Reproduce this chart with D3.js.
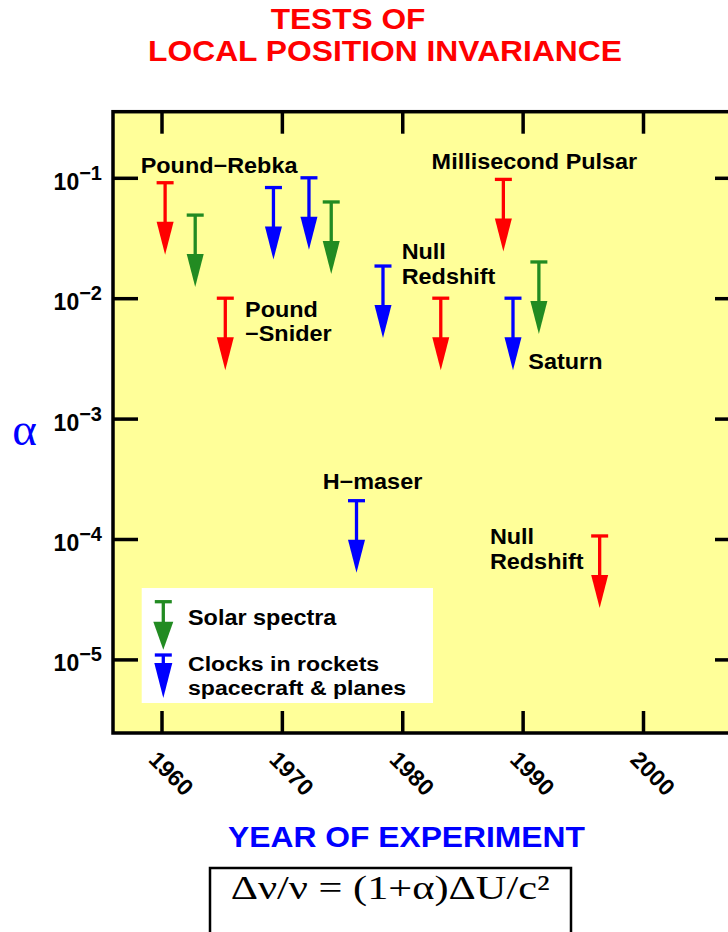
<!DOCTYPE html>
<html><head><meta charset="utf-8">
<script src="https://cdn.jsdelivr.net/npm/d3@7"></script>
<style>body{margin:0;background:#fff;} svg{display:block;}</style>
</head><body>
<svg id="chart" width="728" height="932"></svg>
<script>
// ---------- data ----------
const yearTicks = [1960, 1970, 1980, 1990, 2000];
const alphaTicks = [1e-1, 1e-2, 1e-3, 1e-4, 1e-5];
const alphaExponents = ["\u22121", "\u22122", "\u22123", "\u22124", "\u22125"];

// upper limits on alpha, by experiment type
const redYears  = [1960.3, 1965.3, 1983.2, 1988.4, 1996.4];
const redAlpha  = [0.091, 0.010, 0.010, 0.097, 1.06e-4];
const greenYears = [1962.8, 1974.1, 1991.35];
const greenAlpha = [0.049, 0.063, 0.020];
const blueYears = [1969.3, 1972.25, 1976.2, 1978.4, 1989.2];
const blueAlpha = [0.083, 0.100, 2.08e-4, 0.0185, 0.010];

const annotationTexts = [["Pound\u2212Rebka"], ["Pound", "\u2212Snider"], ["Null", "Redshift"],
  ["Millisecond Pulsar"], ["Saturn"], ["H\u2212maser"], ["Null", "Redshift"]];
const annotationYears = [1958.27, 1966.94, 1979.95, 1982.44, 1990.47, 1973.39, 1987.28];
const annotationAlpha = [0.109, 0.00702, 0.021, 0.118, 0.00257, 2.59e-4, 9.03e-5];

const legendLabels = [["Solar spectra"], ["Clocks in rockets", "spacecraft & planes"]];
const titleLines = ["TESTS OF", "LOCAL POSITION INVARIANCE"];
const xTitle = "YEAR OF EXPERIMENT";
const yTitle = "\u03b1";
const formula = "\u0394\u03bd/\u03bd = (1+\u03b1)\u0394U/c\u00b2";

// ---------- styles ----------
const RED = "#ff0000", GREEN = "#228b22", BLUE = "#0000ff", YELLOW = "#ffff99";
const SANS = "'Liberation Sans', Arial, Helvetica, sans-serif";
const SERIF = "'Liberation Serif', 'Times New Roman', serif";

const svg = d3.select("#chart");

const frame = {left: 113, top: 111.7, right: 740, bottom: 733};
const x = d3.scaleLinear().domain([1960, 2000]).range([161.5, 643]);
const y = d3.scaleLog().domain([1e-5, 1e-1]).range([659.4, 177.8]);

function stretchText(g, px, py, str, size, color, sx, anchor, family, weight) {
  return g.append("text")
    .attr("transform", `translate(${px},${py}) scale(${sx},1)`)
    .attr("font-family", family || SANS)
    .attr("font-weight", weight || "bold")
    .attr("font-size", size)
    .attr("fill", color)
    .attr("text-anchor", anchor || "start")
    .text(str);
}

// title
stretchText(svg, 348, 29, titleLines[0], 30, RED, 1.055, "middle");
stretchText(svg, 385, 61, titleLines[1], 30, RED, 1.06, "middle");

// plot frame
svg.append("rect")
  .attr("x", frame.left).attr("y", frame.top)
  .attr("width", frame.right - frame.left).attr("height", frame.bottom - frame.top)
  .attr("fill", YELLOW).attr("stroke", "#000").attr("stroke-width", 3.5);

// axes (ticks pointing inward)
function styleAxis(g) {
  g.select(".domain").remove();
  g.selectAll(".tick line").attr("stroke", "#000").attr("stroke-width", 3.5);
  g.selectAll(".tick text").remove();
}
svg.append("g").attr("transform", `translate(${frame.left},0)`)
  .call(d3.axisLeft(y).tickValues(alphaTicks).tickSize(-25)).call(styleAxis);
svg.append("g").attr("transform", `translate(${frame.right},0)`)
  .call(d3.axisRight(y).tickValues(alphaTicks).tickSize(-25)).call(styleAxis);
svg.append("g").attr("transform", `translate(0,${frame.bottom})`)
  .call(d3.axisBottom(x).tickValues(yearTicks).tickSize(-22)).call(styleAxis);
svg.append("g").attr("transform", `translate(0,${frame.top})`)
  .call(d3.axisTop(x).tickValues(yearTicks).tickSize(-22)).call(styleAxis);

// y tick labels 10^-n
alphaTicks.forEach((v, i) => {
  const t = svg.append("text")
    .attr("x", 102).attr("y", y(v) + 12)
    .attr("text-anchor", "end")
    .attr("font-family", SANS).attr("font-weight", "bold")
    .attr("font-size", 23).attr("fill", "#000");
  t.append("tspan").text("10");
  t.append("tspan").attr("dy", -10).attr("font-size", 20).text(alphaExponents[i]);
});

// x tick labels, rotated
yearTicks.forEach(v => {
  svg.append("text")
    .attr("transform", `translate(${x(v) - 14},761) rotate(45)`)
    .attr("font-family", SANS).attr("font-weight", "bold")
    .attr("font-size", 23).attr("fill", "#000")
    .text(v);
});

// axis titles
stretchText(svg, 406.5, 846.7, xTitle, 30, BLUE, 1.06, "middle");
svg.append("text").attr("x", 24.5).attr("y", 445).attr("text-anchor", "middle")
  .attr("font-family", SERIF).attr("font-size", 47).attr("fill", BLUE).text(yTitle);

// arrows
function drawArrow(g, cx, capY, color, stemLen, headLen, headW, capW) {
  const lw = 3.3;
  g.append("line").attr("x1", cx - capW / 2).attr("x2", cx + capW / 2)
    .attr("y1", capY).attr("y2", capY)
    .attr("stroke", color).attr("stroke-width", lw);
  g.append("line").attr("x1", cx).attr("x2", cx)
    .attr("y1", capY).attr("y2", capY + stemLen + 2)
    .attr("stroke", color).attr("stroke-width", lw);
  g.append("path")
    .attr("d", `M${cx - headW / 2},${capY + stemLen}L${cx + headW / 2},${capY + stemLen}L${cx},${capY + stemLen + headLen}Z`)
    .attr("fill", color);
}
const arrowsG = svg.append("g");
[[redYears, redAlpha, RED], [greenYears, greenAlpha, GREEN], [blueYears, blueAlpha, BLUE]]
  .forEach(([ys, as, c]) => {
    ys.forEach((yr, i) => drawArrow(arrowsG, x(yr), y(as[i]), c, 39, 33, 17, 17));
  });

// annotations
annotationTexts.forEach((lines, i) => {
  lines.forEach((ln, j) => {
    stretchText(svg, x(annotationYears[i]), y(annotationAlpha[i]) + j * 24.5, ln, 21.5, "#000", 1.09, "start");
  });
});

// legend
svg.append("rect").attr("x", 141.7).attr("y", 588).attr("width", 291.3).attr("height", 115)
  .attr("fill", "#fff");
drawArrow(svg, 163.3, 601.7, GREEN, 20, 28, 20, 17);
drawArrow(svg, 163.3, 655, BLUE, 8, 35, 18, 17);
stretchText(svg, 188, 625, legendLabels[0][0], 21.5, "#000", 1.09, "start");
stretchText(svg, 188, 671, legendLabels[1][0], 21, "#000", 1.1, "start");
stretchText(svg, 188, 694.5, legendLabels[1][1], 21, "#000", 1.1, "start");

// formula box
svg.append("rect").attr("x", 210).attr("y", 868).attr("width", 361).attr("height", 80)
  .attr("fill", "#fff").attr("stroke", "#000").attr("stroke-width", 2.5);
svg.append("text").attr("x", 230.7).attr("y", 899)
  .attr("font-family", SERIF).attr("font-size", 34).attr("fill", "#000")
  .attr("textLength", 319).attr("lengthAdjust", "spacingAndGlyphs")
  .text(formula);
</script>
</body></html>
